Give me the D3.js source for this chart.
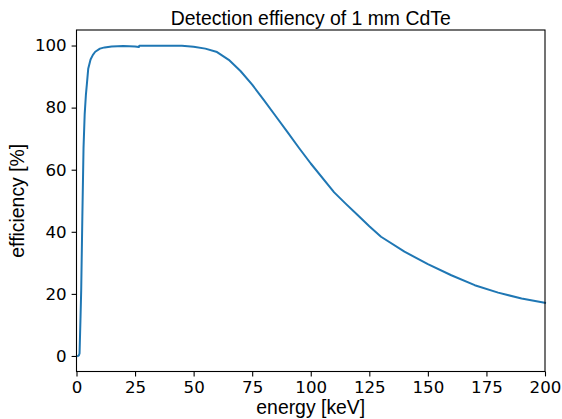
<!DOCTYPE html>
<html>
<head>
<meta charset="utf-8">
<script src="https://cdn.jsdelivr.net/npm/d3@7"></script>
<style>
  html, body { margin: 0; padding: 0; background: #fff; }
  svg { display: block; }
</style>
</head>
<body>
<svg id="chart" width="562" height="419"></svg>
<script>
// ---- data ----
const energy = [0.6, 1.0, 1.3, 1.7, 2.0, 2.5, 3.0, 3.5, 4.0, 4.3, 4.4, 5.0, 6.0, 7.0, 8.0, 10.0, 12.0, 15.0, 20.0, 25.0, 26.6, 26.8, 30, 40, 45, 50, 55, 60, 65, 70, 75, 80, 85, 90, 95, 100, 110, 115, 120, 125, 130, 140, 150, 160, 170, 180, 190, 200];
const efficiency = [0.0, 0.2, 0.8, 12, 21, 45, 67, 78, 84, 86.5, 87.3, 92.5, 95.5, 97.0, 98.0, 99.0, 99.4, 99.7, 99.85, 99.7, 99.5, 99.9, 99.95, 99.95, 99.9, 99.6, 99.0, 97.9, 95.4, 91.8, 87.4, 82.4, 77.3, 72.2, 67.0, 62.0, 52.7, 49.0, 45.4, 41.8, 38.4, 33.6, 29.6, 26.0, 22.8, 20.4, 18.5, 17.1];
const xTicks = [0, 25, 50, 75, 100, 125, 150, 175, 200];
const yTicks = [0, 20, 40, 60, 80, 100];
const titleText = "Detection effiency of 1 mm CdTe";
const xLabelText = "energy [keV]";
const yLabelText = "efficiency [%]";

// ---- layout ----
const svg = d3.select("#chart");
const L = 76.5, R = 545, T = 30, B = 371.5;
const x = d3.scaleLinear().domain([0, 200]).range([L, R]);
const y = d3.scaleLinear().domain([-5, 105]).range([B, T]);

const labelFont = "'Liberation Sans', Arial, Helvetica, sans-serif";
const tickFont = "'DejaVu Sans', sans-serif";

// line
const line = d3.line().x((d, i) => x(energy[i])).y(d => y(d));
svg.append("path")
  .datum(efficiency)
  .attr("d", line)
  .attr("fill", "none")
  .attr("stroke", "#1f77b4")
  .attr("stroke-width", 2)
  .attr("stroke-linejoin", "round")
  .attr("stroke-linecap", "square");

// axes
const xAxis = d3.axisBottom(x).tickValues(xTicks).tickSize(4.9).tickPadding(4.9).tickFormat(d3.format("d"));
const yAxis = d3.axisLeft(y).tickValues(yTicks).tickSize(4.9).tickPadding(4.9).tickFormat(d3.format("d"));

const gx = svg.append("g").attr("transform", `translate(0,${B})`).call(xAxis);
const gy = svg.append("g").attr("transform", `translate(${L},0)`).call(yAxis);
[gx, gy].forEach(g => {
  g.select(".domain").remove();
  g.selectAll(".tick line").attr("stroke", "#000").attr("stroke-width", 1.1);
  g.selectAll(".tick text").attr("fill", "#000").style("font-family", tickFont).style("font-size", "16.67px");
});

// frame
svg.append("rect")
  .attr("x", L).attr("y", T)
  .attr("width", R - L).attr("height", B - T)
  .attr("fill", "none").attr("stroke", "#000").attr("stroke-width", 1.1);

// title and labels
svg.append("text")
  .attr("x", (L + R) / 2).attr("y", 25)
  .attr("text-anchor", "middle")
  .style("font-family", labelFont).style("font-size", "19.4px")
  .text(titleText);

svg.append("text")
  .attr("x", (L + R) / 2).attr("y", 414)
  .attr("text-anchor", "middle")
  .style("font-family", labelFont).style("font-size", "19.4px")
  .text(xLabelText);

svg.append("text")
  .attr("transform", `translate(24,${(T + B) / 2}) rotate(-90)`)
  .attr("text-anchor", "middle")
  .style("font-family", labelFont).style("font-size", "19.4px")
  .text(yLabelText);
</script>
</body>
</html>
